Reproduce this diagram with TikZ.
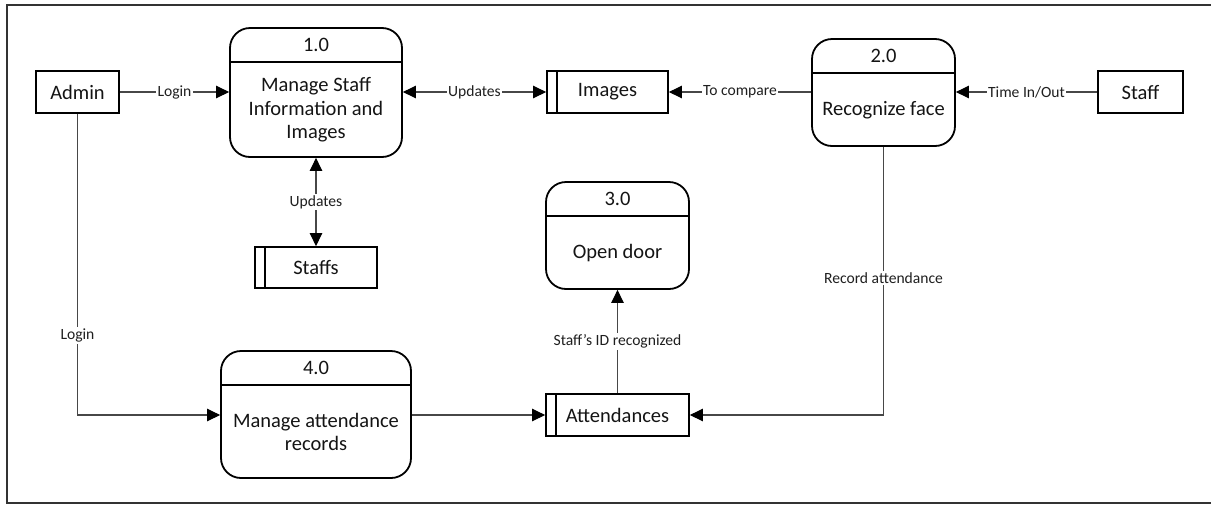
\documentclass[tikz,border=0pt]{standalone}
\usepackage{fontspec}
\setmainfont{Carlito}
\usetikzlibrary{arrows.meta,calc}

\tikzset{
  tip/.tip={Triangle[length=13pt,width=12.5pt,color=black]},
  procbox/.style={draw=black, line width=1.8pt, rounded corners=20pt, inner sep=0pt},
  procline/.style={draw=black, line width=1.8pt},
  entity/.style={draw=black, line width=1.8pt, inner sep=0pt},
  storebox/.style={draw=black, line width=1.8pt, inner sep=0pt},
  maintext/.style={font=\fontsize{20.5}{23.5}\selectfont, text=black!92, inner sep=0pt, align=center},
  flow/.style={draw=black!72, line width=1.1pt, -tip},
  bothflow/.style={draw=black!72, line width=1.1pt, tip-tip},
  flowlabel/.style={fill=white, inner sep=1.5pt, text=black!88, font=\fontsize{15.6}{17}\selectfont}
}

% process: name, centre, width, height, number, text
\newcommand\procnode[6]{%
  \node[procbox, minimum width=#3, minimum height=#4] (#1) at #2 {};
  \draw[procline] ([yshift=-35pt]#1.north west) -- ([yshift=-35pt]#1.north east);
  \node[maintext] (#1-num) at ([yshift=-17.5pt]#1.north) {#5};
  \node[maintext] (#1-txt) at ($(#1.south)!0.5!([yshift=-35pt]#1.north)$) {#6};
}
% data store: name, centre, width, height, text
\newcommand\storenode[5]{%
  \node[storebox, minimum width=#3, minimum height=#4] (#1) at #2 {};
  \draw[procline] ([xshift=10.5pt]#1.north west) -- ([xshift=10.5pt]#1.south west);
  \node[maintext] (#1-txt) at (#1.center) {#5};
}

\begin{document}
\begin{tikzpicture}[x=1pt, y=-1pt]
  \useasboundingbox (0,0) rectangle (1211,504);
  \clip (0,0) rectangle (1211,504);

  % outer frame
  \draw[line width=1.8pt, draw=black!80] (7,5) rectangle (1240,503);

  % external entities
  \node[entity, minimum width=83pt, minimum height=42pt] (admin) at (77.5,92) {};
  \node[maintext] at (admin.center) {Admin};
  \node[entity, minimum width=85pt, minimum height=42pt] (staff) at (1140.5,92) {};
  \node[maintext] at (staff.center) {Staff};

  % processes
  \procnode{p1}{(316,92.5)}{172pt}{129pt}{1.0}{Manage Staff\\Information and\\Images}
  \procnode{p2}{(883.5,92.5)}{143pt}{107pt}{2.0}{Recognize face}
  \procnode{p3}{(617.5,235.5)}{143pt}{107pt}{3.0}{Open door}
  \procnode{p4}{(316,414.5)}{190pt}{127pt}{4.0}{Manage attendance\\records}

  % data stores
  \storenode{images}{(607.5,92)}{121pt}{42pt}{Images}
  \storenode{staffs}{(316,267.5)}{122pt}{41pt}{Staffs}
  \storenode{att}{(617.5,415)}{143pt}{42pt}{Attendances}

  % data flows
  \draw[flow] (admin.east) -- node[flowlabel] {Login} (admin.east -| p1.west);
  \draw[bothflow] (p1.east |- images.west) -- node[flowlabel] {Updates} (images.west);
  \draw[flow] (p2.west |- images.east) -- node[flowlabel] {To compare} (images.east);
  \draw[flow] (staff.west) -- node[flowlabel] {Time In/Out} (staff.west -| p2.east);
  \draw[bothflow] (staffs.north |- p1.south) -- node[flowlabel] {Updates} (staffs.north);
  \draw[flow] (admin.south) |- node[flowlabel, pos=0.368] {Login} (p4.west |- att.west);
  \draw[flow] (p4.east |- att.west) -- (att.west);
  \draw[flow] (att.north) -- node[flowlabel] {Staff’s ID recognized} (att.north |- p3.south);
  \draw[flow] (p2.south) |- node[flowlabel, pos=0.245] {Record attendance} (att.east);
\end{tikzpicture}
\end{document}
